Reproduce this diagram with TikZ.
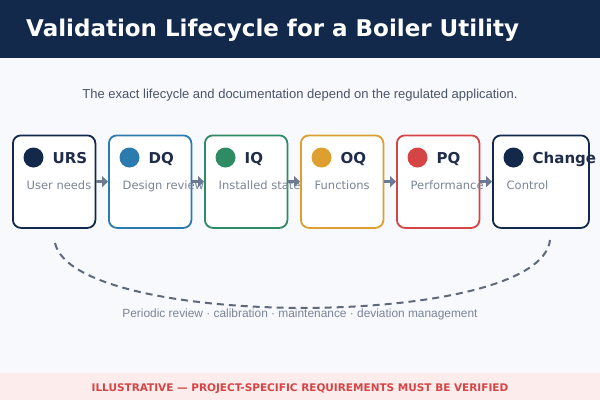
\documentclass[tikz,border=0pt]{standalone}
\usepackage{fontspec}
\setmainfont{DejaVu Sans}
\newfontfamily\dejavu{DejaVu Sans}
\newfontfamily\arialf{Liberation Sans}
\usetikzlibrary{arrows.meta}
\definecolor{navy}{HTML}{13294B}
\definecolor{bluec}{HTML}{2B7BAF}
\definecolor{greenc}{HTML}{2E8B63}
\definecolor{orangec}{HTML}{DDA030}
\definecolor{redc}{HTML}{D64545}
\definecolor{labc}{HTML}{1F2D4A}
\definecolor{subc}{HTML}{7A8596}
\definecolor{arrc}{HTML}{6B7A92}
\definecolor{dashc}{HTML}{5E6A7C}
\definecolor{subtc}{HTML}{4A5568}
\definecolor{bandc}{HTML}{FDECEC}
\definecolor{bgc}{HTML}{F7F9FC}
\tikzset{
  stagebox/.style={draw=#1, line width=1.8pt, fill=white, rounded corners=8pt,
    minimum height=92.5pt, inner sep=0pt, anchor=north west},
  dotc/.style={circle, fill=#1, minimum size=20pt, inner sep=0pt},
  stagelab/.style={anchor=base west, inner sep=0pt, text=labc,
    font=\dejavu\bfseries\fontsize{15}{18}\selectfont},
  stagesub/.style={anchor=base west, inner sep=0pt, text=subc,
    font=\dejavu\fontsize{11.5}{14}\selectfont},
  flowarr/.style={arrc, line width=3.5pt, -{Triangle[length=6pt,width=11pt]}},
  loopline/.style={dashc, line width=2pt, dash pattern=on 7pt off 5pt},
}
\begin{document}
\begin{tikzpicture}[x=1pt,y=-1pt]
\fill[bgc] (0,0) rectangle (600,400);
\useasboundingbox (0,0) rectangle (600,400);
\fill[navy] (0,0) rectangle (600,58);
\node[anchor=base west, inner sep=0pt, text=white, font=\dejavu\bfseries\fontsize{23}{27}\selectfont] (title) at (26,36) {Validation Lifecycle for a Boiler Utility};
\node[anchor=base, inner sep=0pt, text=subtc, font=\arialf\fontsize{13}{16}\selectfont] (subtitle) at (300,98.5) {The exact lifecycle and documentation depend on the regulated application.};

% boxes
\node[stagebox=navy, minimum width=82.5pt] (urs) at (12,134.5) {};
\node[stagebox=bluec, minimum width=82.5pt] (dq) at (108,134.5) {};
\node[stagebox=greenc, minimum width=82.5pt] (iq) at (204,134.5) {};
\node[stagebox=orangec, minimum width=82.5pt] (oq) at (300,134.5) {};
\node[stagebox=redc, minimum width=82.5pt] (pq) at (396,134.5) {};
\node[stagebox=navy, minimum width=96pt] (chg) at (492,134.5) {};

\foreach \b/\c/\t/\s in {urs/navy/URS/User needs, dq/bluec/DQ/Design review, iq/greenc/IQ/Installed state, oq/orangec/OQ/Functions, pq/redc/PQ/Performance, chg/navy/Change/Control}{
  \node[dotc=\c] (\b-dot) at ([xshift=21.5pt,yshift=-23pt]\b.north west) {};
  \node[stagelab] (\b-lab) at ([xshift=40.5pt,yshift=-29pt]\b.north west) {\t};
  \node[stagesub] (\b-sub) at ([xshift=14.5pt,yshift=-55pt]\b.north west) {\s};
}

\draw[flowarr] (urs.east) -- (dq.west);
\draw[flowarr] (dq.east) -- (iq.west);
\draw[flowarr] (iq.east) -- (oq.west);
\draw[flowarr] (oq.east) -- (pq.west);
\draw[flowarr] (pq.east) -- (chg.west);

\coordinate (ls) at (55,243);
\coordinate (le) at (550,240);
\draw[loopline] (ls) .. controls (75,330) and (540,330) .. (le);
\node[anchor=base, inner sep=0pt, text=subc, font=\arialf\fontsize{11.9}{14}\selectfont] (looplab) at (300,317.5) {Periodic review · calibration · maintenance · deviation management};

\fill[bandc] (0,373) rectangle (600,400);
\node[anchor=base, inner sep=0pt, text=redc, font=\dejavu\bfseries\fontsize{10.5}{12}\selectfont] (foot) at (300,391.5) {ILLUSTRATIVE — PROJECT-SPECIFIC REQUIREMENTS MUST BE VERIFIED};
\end{tikzpicture}
\end{document}
